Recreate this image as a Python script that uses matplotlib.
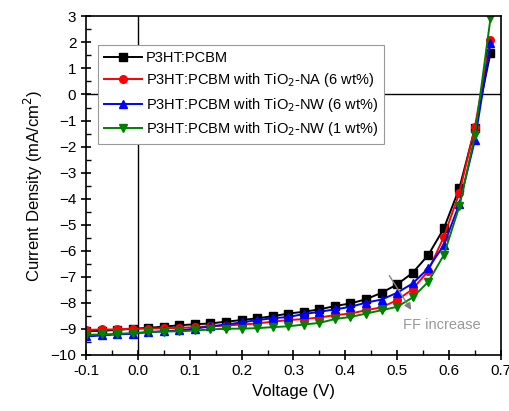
import numpy as np
import matplotlib
matplotlib.use("Agg")
import matplotlib.pyplot as plt
from matplotlib.ticker import MultipleLocator

plt.rcParams['font.family'] = ['Liberation Sans', 'DejaVu Sans']

voltage = [-0.10, -0.07, -0.04, -0.01, 0.02, 0.05, 0.08, 0.11, 0.14, 0.17, 0.20,
           0.23, 0.26, 0.29, 0.32, 0.35, 0.38, 0.41, 0.44, 0.47, 0.50, 0.53,
           0.56, 0.59, 0.62, 0.65, 0.68]

j_ref = [-9.10, -9.08, -9.05, -9.00, -8.97, -8.92, -8.87, -8.83, -8.80, -8.73, -8.67,
         -8.60, -8.52, -8.42, -8.35, -8.26, -8.13, -8.03, -7.87, -7.62, -7.30, -6.85,
         -6.17, -5.15, -3.60, -1.30, 1.60]
j_na6 = [-9.05, -9.03, -9.03, -9.00, -9.00, -8.98, -8.97, -8.94, -8.91, -8.88, -8.84,
         -8.80, -8.73, -8.67, -8.63, -8.57, -8.48, -8.42, -8.29, -8.18, -7.90, -7.48,
         -6.78, -5.47, -3.78, -1.24, 2.10]
j_nw6 = [-9.30, -9.26, -9.22, -9.20, -9.13, -9.10, -9.07, -9.00, -8.91, -8.84, -8.76,
         -8.67, -8.60, -8.55, -8.44, -8.35, -8.26, -8.16, -8.00, -7.88, -7.62, -7.26,
         -6.68, -5.79, -4.20, -1.75, 1.97]
j_nw1 = [-9.24, -9.22, -9.20, -9.17, -9.13, -9.11, -9.10, -9.07, -9.03, -9.00, -9.00,
         -8.98, -8.94, -8.91, -8.84, -8.78, -8.63, -8.55, -8.42, -8.29, -8.16, -7.80,
         -7.20, -6.17, -4.30, -1.56, 2.93]

labels = ['P3HT:PCBM',
          'P3HT:PCBM with TiO$_2$-NA (6 wt%)',
          'P3HT:PCBM with TiO$_2$-NW (6 wt%)',
          'P3HT:PCBM with TiO$_2$-NW (1 wt%)']
colors = ['black', '#ff0000', '#0000ff', '#008000']
markers = ['s', 'o', '^', 'v']

fig = plt.figure(figsize=(5.09, 4.11), dpi=100)
ax = fig.add_axes([0.169, 0.137, 0.815, 0.823])

for j, lab, c, m in zip([j_ref, j_na6, j_nw6, j_nw1], labels, colors, markers):
    ax.plot(voltage, j, color=c, marker=m, markersize=5.5, linewidth=1.4, label=lab)

ax.axhline(0, color='black', linewidth=1.0, zorder=0)
ax.axvline(0, color='black', linewidth=1.0, zorder=0)

ax.set_xlim(-0.1, 0.7)
ax.set_ylim(-10, 3)
ax.xaxis.set_major_locator(MultipleLocator(0.1))
ax.xaxis.set_minor_locator(MultipleLocator(0.05))
ax.yaxis.set_major_locator(MultipleLocator(1))
ax.yaxis.set_minor_locator(MultipleLocator(0.5))
ax.set_xticklabels([f'{v:.1f}' for v in ax.get_xticks()])
ax.tick_params(which='major', direction='inout', length=7, width=1.2, labelsize=11)
ax.tick_params(which='minor', direction='in', length=3.5, width=1.0)
for s in ax.spines.values():
    s.set_linewidth(1.2)

ax.set_xlabel('Voltage (V)', fontsize=12)
ax.set_ylabel('Current Density (mA/cm$^2$)', fontsize=12)

ax.annotate('', xy=(0.53, -8.37), xytext=(0.482, -6.87),
            arrowprops=dict(arrowstyle='-|>', color='gray', lw=1.0, mutation_scale=10))
ax.text(0.511, -8.87, 'FF increase', color='#999999', fontsize=10.5, va='center', ha='left')

leg = ax.legend(loc='upper left', bbox_to_anchor=(0.029, 0.916), borderaxespad=0,
                fontsize=10.5, frameon=True, fancybox=False, edgecolor='#999999',
                framealpha=1, handlelength=2.6, borderpad=0.4, labelspacing=0.45,
                handletextpad=0.3)
leg.get_frame().set_linewidth(0.8)

fig.savefig('out.png', dpi=100)
